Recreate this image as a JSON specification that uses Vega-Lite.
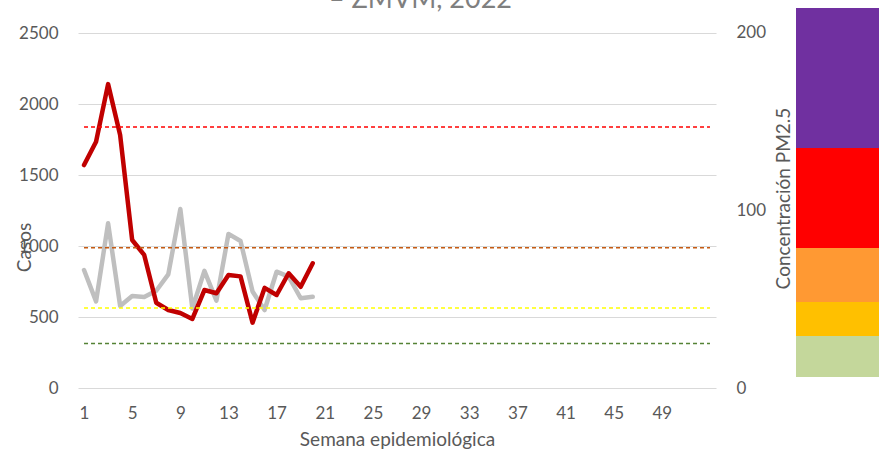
{
  "$schema": "https://vega.github.io/schema/vega-lite/v6.json",
  "background": "white",
  "autosize": {"type": "pad"},
  "padding": {"left": 15, "top": -14, "right": 0, "bottom": 0},
  "bounds": "flush",
  "spacing": 80,
  "title": {
    "text": "– ZMVM, 2022",
    "anchor": "middle",
    "dx": -27,
    "dy": 27,
    "offset": 0,
    "baseline": "alphabetic",
    "fontSize": 27,
    "font": "Lato",
    "fontWeight": "normal",
    "color": "#7F7F7F"
  },
  "datasets": {
    "casos": [
      {"semana": 1, "serie": "2022", "casos": 1570},
      {"semana": 2, "serie": "2022", "casos": 1734},
      {"semana": 3, "serie": "2022", "casos": 2140},
      {"semana": 4, "serie": "2022", "casos": 1782},
      {"semana": 5, "serie": "2022", "casos": 1042},
      {"semana": 6, "serie": "2022", "casos": 937},
      {"semana": 7, "serie": "2022", "casos": 600},
      {"semana": 8, "serie": "2022", "casos": 549},
      {"semana": 9, "serie": "2022", "casos": 528},
      {"semana": 10, "serie": "2022", "casos": 486},
      {"semana": 11, "serie": "2022", "casos": 690},
      {"semana": 12, "serie": "2022", "casos": 667},
      {"semana": 13, "serie": "2022", "casos": 796},
      {"semana": 14, "serie": "2022", "casos": 786},
      {"semana": 15, "serie": "2022", "casos": 460},
      {"semana": 16, "serie": "2022", "casos": 705},
      {"semana": 17, "serie": "2022", "casos": 655},
      {"semana": 18, "serie": "2022", "casos": 808},
      {"semana": 19, "serie": "2022", "casos": 713},
      {"semana": 20, "serie": "2022", "casos": 878},
      {"semana": 1, "serie": "Referencia", "casos": 831},
      {"semana": 2, "serie": "Referencia", "casos": 610},
      {"semana": 3, "serie": "Referencia", "casos": 1160},
      {"semana": 4, "serie": "Referencia", "casos": 578},
      {"semana": 5, "serie": "Referencia", "casos": 648},
      {"semana": 6, "serie": "Referencia", "casos": 641},
      {"semana": 7, "serie": "Referencia", "casos": 685},
      {"semana": 8, "serie": "Referencia", "casos": 800},
      {"semana": 9, "serie": "Referencia", "casos": 1260},
      {"semana": 10, "serie": "Referencia", "casos": 560},
      {"semana": 11, "serie": "Referencia", "casos": 825},
      {"semana": 12, "serie": "Referencia", "casos": 615},
      {"semana": 13, "serie": "Referencia", "casos": 1085},
      {"semana": 14, "serie": "Referencia", "casos": 1035},
      {"semana": 15, "serie": "Referencia", "casos": 680},
      {"semana": 16, "serie": "Referencia", "casos": 549},
      {"semana": 17, "serie": "Referencia", "casos": 819},
      {"semana": 18, "serie": "Referencia", "casos": 784},
      {"semana": 19, "serie": "Referencia", "casos": 632},
      {"semana": 20, "serie": "Referencia", "casos": 643}
    ],
    "umbrales": [
      {"nivel": "Buena", "pm25": 25, "desde": 1, "hasta": 53},
      {"nivel": "Aceptable", "pm25": 45, "desde": 1, "hasta": 53},
      {"nivel": "Mala", "pm25": 79, "desde": 1, "hasta": 53},
      {"nivel": "Muy mala", "pm25": 147, "desde": 1, "hasta": 53}
    ],
    "bandas": [
      {"categoria": "Buena", "desde": 0, "hasta": 41},
      {"categoria": "Aceptable", "desde": 41, "hasta": 75},
      {"categoria": "Mala", "desde": 75, "hasta": 129},
      {"categoria": "Muy mala", "desde": 129, "hasta": 229},
      {"categoria": "Extremadamente mala", "desde": 229, "hasta": 369}
    ]
  },
  "hconcat": [
    {
      "width": 638,
      "height": 380,
      "layer": [
        {
          "data": {"name": "casos"},
          "encoding": {
            "x": {
              "field": "semana",
              "type": "quantitative",
              "scale": {"domain": [0.5, 53.5], "nice": false, "zero": false},
              "axis": {
                "values": [1, 5, 9, 13, 17, 21, 25, 29, 33, 37, 41, 45, 49],
                "format": "d",
                "title": "Semana epidemiológica",
                "grid": false,
                "domain": false,
                "ticks": false,
                "labelPadding": 17,
                "titlePadding": 9
              }
            },
            "y": {
              "field": "casos",
              "type": "quantitative",
              "scale": {"domain": [0, 2676.06], "nice": false},
              "axis": {
                "orient": "left",
                "values": [0, 500, 1000, 1500, 2000, 2500],
                "format": "d",
                "title": "Casos",
                "grid": true,
                "gridColor": "#D9D9D9",
                "gridWidth": 1,
                "domain": false,
                "ticks": false,
                "labelPadding": 20,
                "titleX": -54,
                "titleY": 239,
                "titleAngle": 270,
                "titleAlign": "center",
                "titleBaseline": "middle"
              }
            }
          },
          "layer": [
            {
              "transform": [{"filter": "datum.serie === 'Referencia'"}],
              "mark": {"type": "line", "color": "#BFBFBF", "strokeWidth": 4.5, "strokeJoin": "round", "strokeCap": "round"}
            },
            {
              "transform": [{"filter": "datum.serie === '2022'"}],
              "mark": {"type": "line", "color": "#C00000", "strokeWidth": 4.5, "strokeJoin": "round", "strokeCap": "round"}
            }
          ]
        },
        {
          "data": {"name": "umbrales"},
          "mark": {"type": "rule", "strokeDash": [4, 3], "strokeWidth": 1.5},
          "encoding": {
            "x": {"field": "desde", "type": "quantitative"},
            "x2": {"field": "hasta"},
            "y": {
              "field": "pm25",
              "type": "quantitative",
              "scale": {"domain": [0, 214.08], "nice": false},
              "axis": {
                "orient": "right",
                "values": [0, 100, 200],
                "format": "d",
                "title": "Concentración PM2.5",
                "grid": false,
                "domain": false,
                "ticks": false,
                "labelPadding": 20,
                "titlePadding": 28,
                "titleAngle": 270
              }
            },
            "color": {
              "field": "nivel",
              "type": "nominal",
              "scale": {
                "domain": ["Buena", "Aceptable", "Mala", "Muy mala"],
                "range": ["#548235", "#FFFF00", "#C55A11", "#FF0000"]
              },
              "legend": null
            }
          }
        }
      ],
      "resolve": {"scale": {"y": "independent", "color": "independent"}}
    },
    {
      "width": 84,
      "height": 369,
      "data": {"name": "bandas"},
      "mark": {"type": "rect"},
      "encoding": {
        "x": {"datum": 0, "type": "quantitative", "scale": {"domain": [0, 1], "nice": false}, "axis": null},
        "x2": {"datum": 1},
        "y": {"field": "desde", "type": "quantitative", "scale": {"domain": [0, 369], "nice": false}, "axis": null},
        "y2": {"field": "hasta"},
        "color": {
          "field": "categoria",
          "type": "nominal",
          "scale": {
            "domain": ["Buena", "Aceptable", "Mala", "Muy mala", "Extremadamente mala"],
            "range": ["#C4D79B", "#FFC000", "#FF9933", "#FF0000", "#7030A0"]
          },
          "legend": null
        }
      }
    }
  ],
  "resolve": {"scale": {"color": "independent"}},
  "config": {
    "view": {"stroke": null},
    "font": "Lato",
    "axis": {
      "labelFont": "Lato",
      "labelFontSize": 17,
      "labelColor": "#595959",
      "titleFont": "Lato",
      "titleFontSize": 19,
      "titleFontWeight": "normal",
      "titleColor": "#595959"
    }
  }
}
